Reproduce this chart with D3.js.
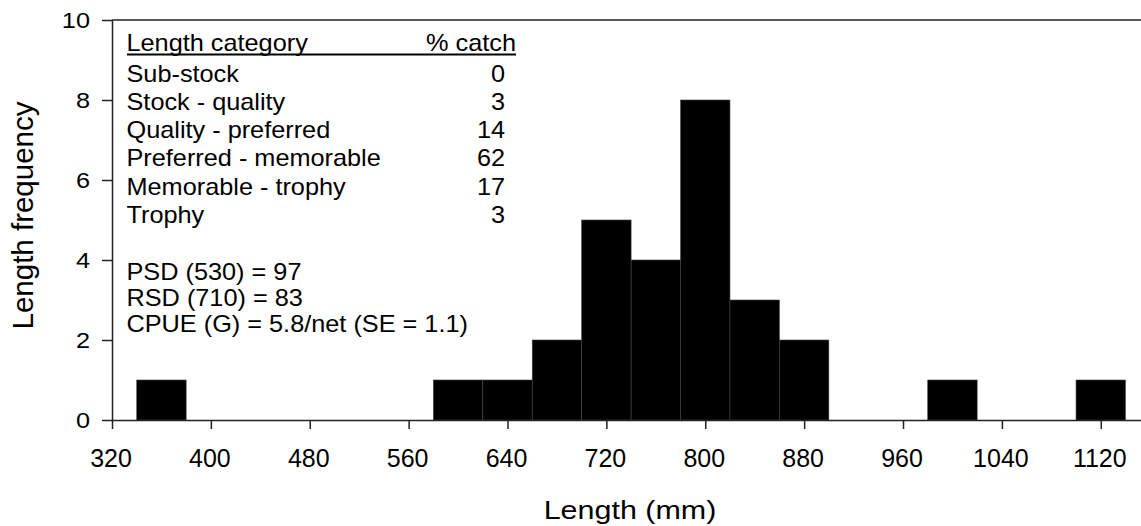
<!DOCTYPE html>
<html>
<head>
<meta charset="utf-8">
<script src="https://cdn.jsdelivr.net/npm/d3@7"></script>
<style>
  body { margin: 0; background: #fff; }
  svg { display: block; font-family: "Liberation Sans", Arial, sans-serif; }
</style>
</head>
<body>
<div id="chart"></div>
<script>
// data
var binStart = [340, 580, 620, 660, 700, 740, 780, 820, 860, 980, 1100];
var binCount = [1, 1, 1, 2, 5, 4, 8, 3, 2, 1, 1];
var binWidth = 40;

var xTicks = [320, 400, 480, 560, 640, 720, 800, 880, 960, 1040, 1120];
var yTicks = [0, 2, 4, 6, 8, 10];

var categories = ["Sub-stock", "Stock - quality", "Quality - preferred",
    "Preferred - memorable", "Memorable - trophy", "Trophy"];
var pctCatch = [0, 3, 14, 62, 17, 3];

var statLines = ["PSD (530) = 97", "RSD (710) = 83", "CPUE (G) = 5.8/net (SE = 1.1)"];

var svgWidth = 1141;
var svgHeight = 526;

var svg = d3.select("#chart")
    .append("svg")
    .attr("width", svgWidth)
    .attr("height", svgHeight);

var x = d3.scaleLinear()
    .domain([320, 1160])
    .range([112, 1150.2]);

var y = d3.scaleLinear()
    .domain([0, 10])
    .range([420, 20]);

// text with a slight horizontal stretch, like the source picture
function label(g, px, py, str, size, sx, anchor) {
    return g.append("text")
        .attr("transform", `translate(${px},${py}) scale(${sx},1)`)
        .attr("font-size", size + "px")
        .attr("text-anchor", anchor || "start")
        .attr("fill", "#000")
        .text(str);
}

// bars
svg.append("g")
    .selectAll("rect")
    .data(binStart)
    .enter()
    .append("rect")
    .attr("x", d => x(d))
    .attr("y", (d, i) => y(binCount[i]))
    .attr("width", d => x(d + binWidth) - x(d))
    .attr("height", (d, i) => y(0) - y(binCount[i]))
    .attr("fill", "#000")
    .attr("stroke", "#444")
    .attr("stroke-width", 0.6);

// axes
var bottomAxis = d3.axisBottom(x).tickValues(xTicks).tickSize(9).tickSizeOuter(0).tickFormat(d3.format("d"));
var leftAxis = d3.axisLeft(y).tickValues(yTicks).tickSize(10).tickSizeOuter(0).tickFormat(d3.format("d"));

var xg = svg.append("g")
    .attr("transform", `translate(0, ${y(0)})`)
    .call(bottomAxis);
var yg = svg.append("g")
    .attr("transform", `translate(${x(320)}, 0)`)
    .call(leftAxis);

[xg, yg].forEach(function(g) {
    g.select(".domain").attr("stroke", "#222").attr("stroke-width", 1.5);
    g.selectAll(".tick line").attr("stroke", "#222").attr("stroke-width", 1.5);
    g.selectAll(".tick text").remove();
});

// tick labels
xTicks.forEach(function(t) {
    label(svg, x(t) - 1, 466.5, String(t), 25, 1, "middle");
});
yTicks.forEach(function(t) {
    label(svg, 90, y(t) + 8, String(t), 22, 1.15, "end");
});

// top border
svg.append("line")
    .attr("x1", x(320)).attr("x2", x(1160))
    .attr("y1", y(10)).attr("y2", y(10))
    .attr("stroke", "#222")
    .attr("stroke-width", 1.5);

// axis titles
label(svg, 630, 519, "Length (mm)", 26.5, 1.15, "middle");
svg.append("text")
    .attr("transform", "translate(33, 215.5) rotate(-90)")
    .attr("font-size", "29.5px")
    .attr("text-anchor", "middle")
    .text("Length frequency");

// legend table
var lg = svg.append("g");
label(lg, 126.5, 51, "Length category", 23, 1.1);
label(lg, 516, 51, "% catch", 23, 1.1, "end");
lg.append("line")
    .attr("x1", 127).attr("x2", 516)
    .attr("y1", 54.5).attr("y2", 54.5)
    .attr("stroke", "#000")
    .attr("stroke-width", 2);

categories.forEach(function(c, i) {
    var by = 81.5 + i * 28.3;
    label(lg, 126.5, by, c, 23, 1.1);
    label(lg, 505, by, String(pctCatch[i]), 23, 1.1, "end");
});

statLines.forEach(function(s, i) {
    label(lg, 126.5, 279.5 + i * 26, s, 23, 1.1);
});
</script>
</body>
</html>
